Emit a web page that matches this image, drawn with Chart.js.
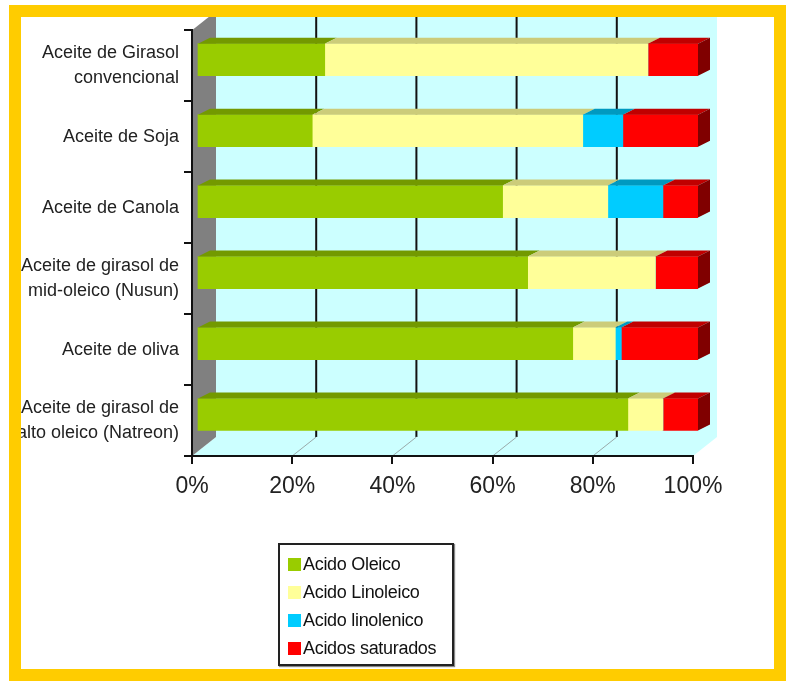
<!DOCTYPE html>
<html>
<head>
<meta charset="utf-8">
<script src="https://cdn.jsdelivr.net/npm/chart.js@4.4.0/dist/chart.umd.min.js"></script>
<style>
  html, body { margin: 0; padding: 0; background: #fff; }
  body { width: 786px; height: 681px; position: relative; overflow: hidden; }
  #chart { position: absolute; left: 0; top: 0; }
  .frame {
    position: absolute; left: 9px; top: 5px; width: 777px; height: 676px;
    border: 12px solid #FFCC00; box-sizing: border-box; pointer-events: none;
  }
  #legend {
    position: absolute; left: 278px; top: 543px; width: 172px; height: 114px;
    border: 2px solid #222; box-shadow: 1px 1px 1px #888;
    font-family: "Liberation Sans", Arial, sans-serif; font-size: 18px; color: #111;
    padding-top: 5px; box-sizing: content-box;
  }
  #legend .row { height: 28px; line-height: 28px; padding-left: 8px; white-space: nowrap; letter-spacing: -0.3px; }
  #legend .sw { display: inline-block; width: 13px; height: 13px; margin-right: 2px; vertical-align: -1px; }
</style>
</head>
<body>
<canvas id="chart" width="786" height="681"></canvas>
<div id="legend"></div>
<div class="frame"></div>
<script>
// categorias (de arriba hacia abajo)
const categories = [
  ["Aceite de Girasol", "convencional"],
  "Aceite de Soja",
  "Aceite de Canola",
  ["Aceite de girasol de", "mid-oleico (Nusun)"],
  "Aceite de oliva",
  ["Aceite de girasol de", "alto oleico (Natreon)"]
];
const seriesNames = ["Acido Oleico", "Acido Linoleico", "Acido linolenico", "Acidos saturados"];

// % de cada acido graso
const oleico     = [25.5, 23, 61, 66, 75, 86];
const linoleico  = [64.5, 54, 21, 25.5, 8.5, 7];
const linolenico = [0, 8, 11, 0, 1.2, 0];
const saturados  = [10, 15, 7, 8.5, 15.3, 7];

const xTicks = [0, 20, 40, 60, 80, 100];

const FRONT = ["#99CC00", "#FFFF99", "#00CCFF", "#FF0000"];
const TOP   = ["#739900", "#CCCC7A", "#0099C0", "#C00000"];
const SIDE  = ["#4D6600", "#99995C", "#006680", "#800000"];

const FONT = "Liberation Sans";
const WALL = { dx: 24, dy: -19 };   // profundidad del fondo
const BAR = { dx: 12, dy: -6, offX: 5, offY: -6 };

// paredes y piso 3D
const wallsPlugin = {
  id: "walls",
  beforeDraw(chart) {
    const { ctx, chartArea: a, scales } = chart;
    const { dx, dy } = WALL;
    ctx.save();
    ctx.fillStyle = "#CCFFFF";
    ctx.fillRect(a.left + dx, a.top + dy, a.right - a.left, a.bottom - a.top);
    // piso
    ctx.beginPath();
    ctx.moveTo(a.left, a.bottom);
    ctx.lineTo(a.right, a.bottom);
    ctx.lineTo(a.right + dx, a.bottom + dy);
    ctx.lineTo(a.left + dx, a.bottom + dy);
    ctx.closePath();
    ctx.fill();
    // pared izquierda
    ctx.fillStyle = "#808080";
    ctx.beginPath();
    ctx.moveTo(a.left, a.top);
    ctx.lineTo(a.left + dx, a.top + dy);
    ctx.lineTo(a.left + dx, a.bottom + dy);
    ctx.lineTo(a.left, a.bottom);
    ctx.closePath();
    ctx.fill();
    // lineas de la grilla
    xTicks.slice(1, -1).forEach(v => {
      const x = scales.x.getPixelForValue(v);
      ctx.strokeStyle = "#111";
      ctx.lineWidth = 2;
      ctx.beginPath();
      ctx.moveTo(x + dx, a.top + dy);
      ctx.lineTo(x + dx, a.bottom + dy);
      ctx.stroke();
      ctx.strokeStyle = "#9aaaaa";
      ctx.lineWidth = 1;
      ctx.beginPath();
      ctx.moveTo(x, a.bottom);
      ctx.lineTo(x + dx, a.bottom + dy);
      ctx.stroke();
    });
    ctx.restore();
  },
  beforeDatasetsDraw(chart) {
    chart.ctx.save();
    chart.ctx.translate(BAR.offX, BAR.offY);
  },
  afterDatasetsDraw(chart) {
    const ctx = chart.ctx;
    const nSets = chart.data.datasets.length;
    chart.data.datasets.forEach((ds, di) => {
      chart.getDatasetMeta(di).data.forEach((el, i) => {
        const p = el.getProps(["x", "y", "base", "height"], true);
        const x0 = Math.min(p.x, p.base), x1 = Math.max(p.x, p.base);
        if (x1 - x0 < 0.5) return;
        const y0 = p.y - p.height / 2, y1 = p.y + p.height / 2;
        ctx.fillStyle = TOP[di];
        ctx.beginPath();
        ctx.moveTo(x0, y0);
        ctx.lineTo(x1, y0);
        ctx.lineTo(x1 + BAR.dx, y0 + BAR.dy);
        ctx.lineTo(x0 + BAR.dx, y0 + BAR.dy);
        ctx.closePath();
        ctx.fill();
        // cara lateral solo en el ultimo segmento
        let last = true;
        for (let k = di + 1; k < nSets; k++) {
          if (chart.data.datasets[k].data[i] > 0) last = false;
        }
        if (last) {
          ctx.fillStyle = SIDE[di];
          ctx.beginPath();
          ctx.moveTo(x1, y0);
          ctx.lineTo(x1 + BAR.dx, y0 + BAR.dy);
          ctx.lineTo(x1 + BAR.dx, y1 + BAR.dy);
          ctx.lineTo(x1, y1);
          ctx.closePath();
          ctx.fill();
        }
      });
    });
    ctx.restore();
  }
};

const values = [oleico, linoleico, linolenico, saturados];

const chart = new Chart(document.getElementById("chart").getContext("2d"), {
  type: "bar",
  data: {
    labels: categories,
    datasets: seriesNames.map((name, i) => ({
      label: name,
      data: values[i],
      backgroundColor: FRONT[i],
      borderWidth: 0,
      barThickness: 32
    }))
  },
  options: {
    indexAxis: "y",
    responsive: false,
    animation: false,
    layout: { padding: { top: 30, right: 93, bottom: 0, left: 0 } },
    plugins: { legend: { display: false }, tooltip: { enabled: false } },
    scales: {
      x: {
        stacked: true,
        min: 0,
        max: 100,
        afterFit(s) { s.height = 225; },
        afterBuildTicks(s) { s.ticks = xTicks.map(v => ({ value: v })); },
        grid: { drawOnChartArea: false, tickLength: 8, color: "#111", lineWidth: 2 },
        border: { color: "#111", width: 2 },
        ticks: {
          padding: 9,
          color: "#222",
          font: { family: FONT, size: 23 },
          callback: v => v + "%"
        }
      },
      y: {
        stacked: true,
        afterFit(s) { s.width = 192; },
        grid: { drawOnChartArea: false, tickLength: 8, color: "#111", lineWidth: 2, offset: true },
        border: { color: "#111", width: 2 },
        ticks: {
          padding: 5,
          autoSkip: false,
          color: "#222",
          font: { family: FONT, size: 18, lineHeight: 1.4 }
        }
      }
    }
  },
  plugins: [wallsPlugin]
});

// leyenda vertical en HTML
document.getElementById("legend").innerHTML = chart.data.datasets.map(ds =>
  `<div class="row"><span class="sw" style="background:${ds.backgroundColor}"></span>${ds.label}</div>`
).join("");
</script>
</body>
</html>
